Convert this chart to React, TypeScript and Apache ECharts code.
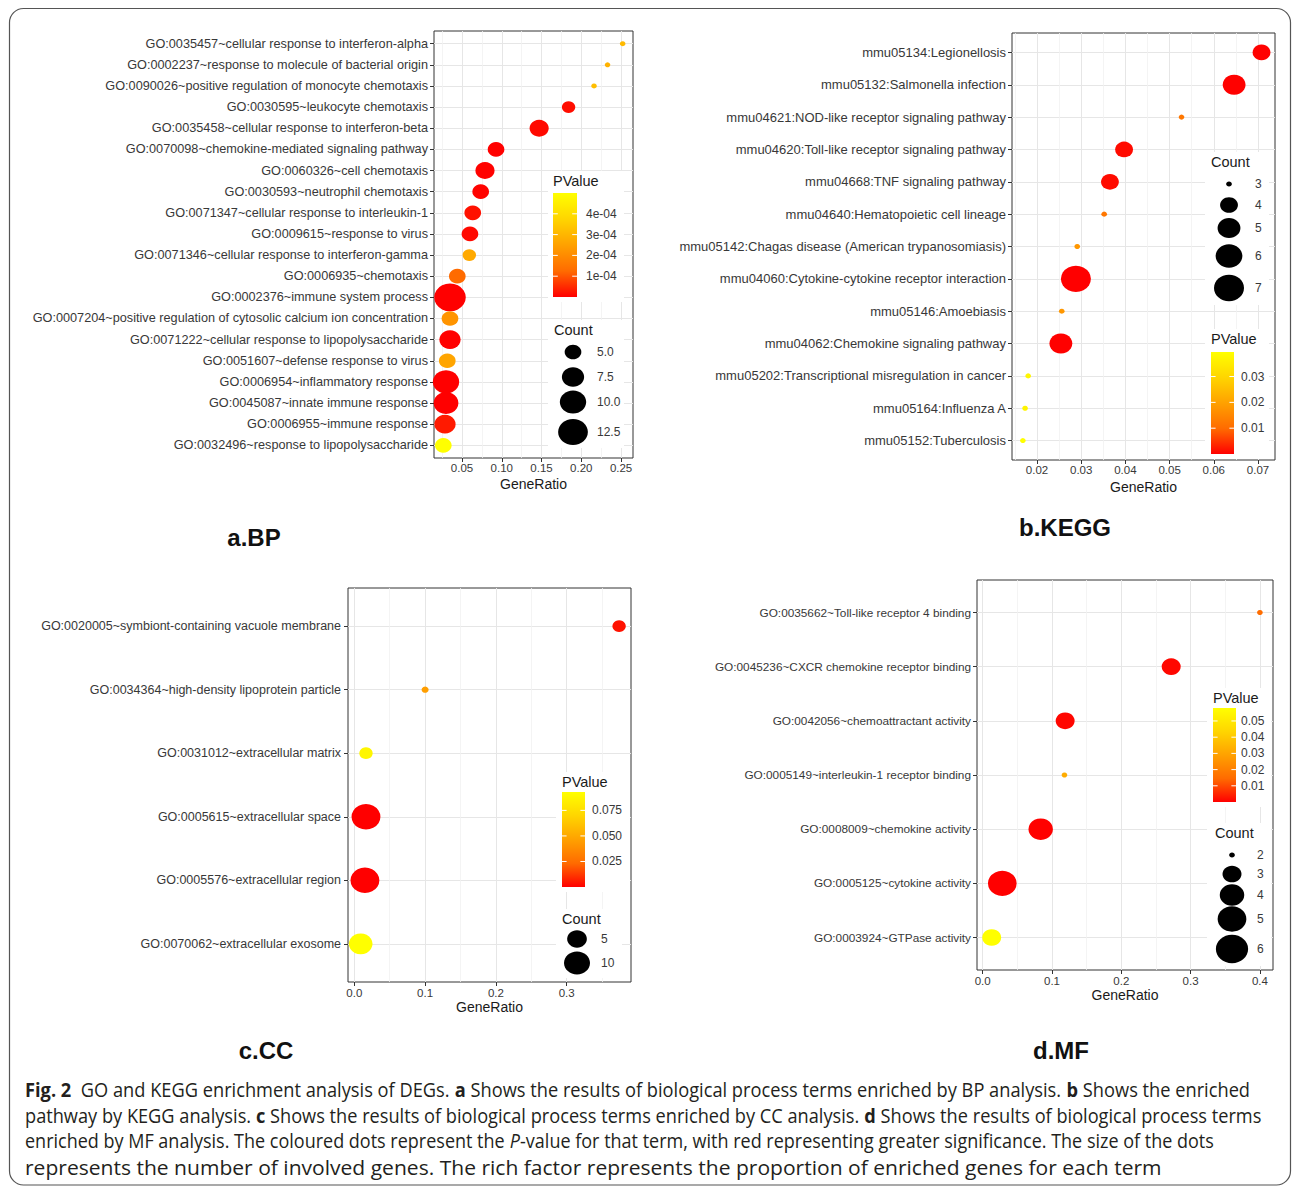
import React, { useEffect, useRef } from 'react';
import * as echarts from 'echarts';

// ---------------- data: a.BP ----------------
const bpTerms = [
  'GO:0035457~cellular response to interferon-alpha',
  'GO:0002237~response to molecule of bacterial origin',
  'GO:0090026~positive regulation of monocyte chemotaxis',
  'GO:0030595~leukocyte chemotaxis',
  'GO:0035458~cellular response to interferon-beta',
  'GO:0070098~chemokine-mediated signaling pathway',
  'GO:0060326~cell chemotaxis',
  'GO:0030593~neutrophil chemotaxis',
  'GO:0071347~cellular response to interleukin-1',
  'GO:0009615~response to virus',
  'GO:0071346~cellular response to interferon-gamma',
  'GO:0006935~chemotaxis',
  'GO:0002376~immune system process',
  'GO:0007204~positive regulation of cytosolic calcium ion concentration',
  'GO:0071222~cellular response to lipopolysaccharide',
  'GO:0051607~defense response to virus',
  'GO:0006954~inflammatory response',
  'GO:0045087~innate immune response',
  'GO:0006955~immune response',
  'GO:0032496~response to lipopolysaccharide',
];
const bpRatio = [0.252, 0.233, 0.216, 0.184, 0.147, 0.0928, 0.0789, 0.0735, 0.0635, 0.06, 0.0592, 0.0441, 0.0349, 0.0349, 0.0349, 0.0315, 0.0299, 0.0299, 0.0286, 0.0265];
const bpCount = [3, 3, 3, 4, 6, 5, 6, 5, 5, 5, 4, 5, 14, 5, 7, 5, 10, 9, 7, 5];
const bpPValue = [3.1e-4, 2.9e-4, 3.2e-4, 1.5e-5, 1e-5, 1e-6, 2e-6, 3e-6, 2e-5, 1e-5, 2.7e-4, 1.25e-4, 1e-8, 2.2e-4, 1e-6, 2.6e-4, 1e-8, 5e-8, 3e-5, 5.0e-4];
const bpXTicks = [0.05, 0.1, 0.15, 0.2, 0.25];
const bpXTickLabels = ['0.05', '0.10', '0.15', '0.20', '0.25'];
const bpXMinor = [0.025, 0.075, 0.125, 0.175, 0.225];
const bpPBreaks = [1e-4, 2e-4, 3e-4, 4e-4];
const bpPBreakLabels = ['1e-04', '2e-04', '3e-04', '4e-04'];
const bpCountBreaks = [5, 7.5, 10, 12.5];
const bpCountBreakLabels = ['5.0', '7.5', '10.0', '12.5'];

// ---------------- data: b.KEGG ----------------
const kgTerms = [
  'mmu05134:Legionellosis',
  'mmu05132:Salmonella infection',
  'mmu04621:NOD-like receptor signaling pathway',
  'mmu04620:Toll-like receptor signaling pathway',
  'mmu04668:TNF signaling pathway',
  'mmu04640:Hematopoietic cell lineage',
  'mmu05142:Chagas disease (American trypanosomiasis)',
  'mmu04060:Cytokine-cytokine receptor interaction',
  'mmu05146:Amoebiasis',
  'mmu04062:Chemokine signaling pathway',
  'mmu05202:Transcriptional misregulation in cancer',
  'mmu05164:Influenza A',
  'mmu05152:Tuberculosis',
];
const kgRatio = [0.0708, 0.0646, 0.0527, 0.0397, 0.0365, 0.0352, 0.0291, 0.0288, 0.0256, 0.0254, 0.018, 0.0173, 0.0168];
const kgCount = [4, 5, 3, 4, 4, 3, 3, 7, 3, 5, 3, 3, 3];
const kgPValue = [2e-4, 1e-4, 0.012, 0.001, 0.001, 0.012, 0.018, 1e-5, 0.018, 1e-4, 0.0375, 0.037, 0.0395];
const kgXTicks = [0.02, 0.03, 0.04, 0.05, 0.06, 0.07];
const kgXTickLabels = ['0.02', '0.03', '0.04', '0.05', '0.06', '0.07'];
const kgXMinor = [0.015, 0.025, 0.035, 0.045, 0.055, 0.065];
const kgPBreaks = [0.01, 0.02, 0.03];
const kgPBreakLabels = ['0.01', '0.02', '0.03'];
const kgCountBreaks = [3, 4, 5, 6, 7];
const kgCountBreakLabels = ['3', '4', '5', '6', '7'];

// ---------------- data: c.CC ----------------
const ccTerms = [
  'GO:0020005~symbiont-containing vacuole membrane',
  'GO:0034364~high-density lipoprotein particle',
  'GO:0031012~extracellular matrix',
  'GO:0005615~extracellular space',
  'GO:0005576~extracellular region',
  'GO:0070062~extracellular exosome',
];
const ccRatio = [0.374, 0.1, 0.0165, 0.0165, 0.015, 0.009];
const ccCount = [2, 1, 2, 13, 13, 8];
const ccPValue = [0.004, 0.045, 0.088, 1e-5, 2e-5, 0.093];
const ccXTicks = [0, 0.1, 0.2, 0.3];
const ccXTickLabels = ['0.0', '0.1', '0.2', '0.3'];
const ccXMinor = [0.05, 0.15, 0.25, 0.35];
const ccPBreaks = [0.025, 0.05, 0.075];
const ccPBreakLabels = ['0.025', '0.050', '0.075'];
const ccCountBreaks = [5, 10];
const ccCountBreakLabels = ['5', '10'];

// ---------------- data: d.MF ----------------
const mfTerms = [
  'GO:0035662~Toll-like receptor 4 binding',
  'GO:0045236~CXCR chemokine receptor binding',
  'GO:0042056~chemoattractant activity',
  'GO:0005149~interleukin-1 receptor binding',
  'GO:0008009~chemokine activity',
  'GO:0005125~cytokine activity',
  'GO:0003924~GTPase activity',
];
const mfRatio = [0.4, 0.272, 0.119, 0.118, 0.0837, 0.0283, 0.013];
const mfCount = [2, 3, 3, 2, 4, 5, 3];
const mfPValue = [0.015, 0.001, 0.0008, 0.032, 0.0002, 1e-5, 0.058];
const mfXTicks = [0, 0.1, 0.2, 0.3, 0.4];
const mfXTickLabels = ['0.0', '0.1', '0.2', '0.3', '0.4'];
const mfXMinor = [0.05, 0.15, 0.25, 0.35];
const mfPBreaks = [0.01, 0.02, 0.03, 0.04, 0.05];
const mfPBreakLabels = ['0.01', '0.02', '0.03', '0.04', '0.05'];
const mfCountBreaks = [2, 3, 4, 5, 6];
const mfCountBreakLabels = ['2', '3', '4', '5', '6'];

// ---------------- caption ----------------
const captionLines: [string, string][][] = [
  [['Fig. 2', 'b'], ['  GO and KEGG enrichment analysis of DEGs. ', ''], ['a', 'b'], [' Shows the results of biological process terms enriched by BP analysis. ', ''], ['b', 'b'], [' Shows the enriched', '']],
  [['pathway by KEGG analysis. ', ''], ['c', 'b'], [' Shows the results of biological process terms enriched by CC analysis. ', ''], ['d', 'b'], [' Shows the results of biological process terms', '']],
  [['enriched by MF analysis. The coloured dots represent the ', ''], ['P', 'i'], ['-value for that term, with red representing greater significance. The size of the dots', '']],
  [['represents the number of involved genes. The rich factor represents the proportion of enriched genes for each term', '']],
];

// ---------------- styling / layout ----------------
const FONT = '"Liberation Sans", Arial, Helvetica, sans-serif';
const CAPTION_FONT = '"Liberation Sans Narrow", "Open Sans", "Noto Sans", sans-serif';
const CAPTION_SIZE = 20;
const P_COLORS = ['#FF0000', '#FF6B00', '#FFA100', '#FFD500', '#FFFF00'];
const ASPECT = 0.88;
const AXIS_TEXT = '#383838';
const TITLE_TEXT = '#1a1a1a';

const panels = [
  {
    terms: bpTerms, ratio: bpRatio, count: bpCount, pvalue: bpPValue,
    xTicks: bpXTicks, xTickLabels: bpXTickLabels, xMinor: bpXMinor,
    pBreaks: bpPBreaks, pBreakLabels: bpPBreakLabels, cBreaks: bpCountBreaks, cBreakLabels: bpCountBreakLabels,
    title: 'a.BP',
    lay: {
      left: 434, top: 31, width: 199, height: 427, xMin: 0.0148, xMax: 0.265,
      yFont: 12.7, yMargin: 6, xFont: 11.5, xMargin: 4, nameGap: 19, dMin: 5.6, dMax: 31.6,
      pTitle: [553, 181], bar: [553, 193, 24, 104], pLabelX: 586, pBox: [548, 171, 76, 131],
      cTitle: [554, 330], cKeyX: 573, cKeyY: [352, 377, 402, 432], cLabelX: 597, cBox: [548, 320, 76, 128],
      titlePos: [254, 537],
    },
  },
  {
    terms: kgTerms, ratio: kgRatio, count: kgCount, pvalue: kgPValue,
    xTicks: kgXTicks, xTickLabels: kgXTickLabels, xMinor: kgXMinor,
    pBreaks: kgPBreaks, pBreakLabels: kgPBreakLabels, cBreaks: kgCountBreaks, cBreakLabels: kgCountBreakLabels,
    title: 'b.KEGG',
    lay: {
      left: 1012, top: 33, width: 263, height: 427, xMin: 0.01434, xMax: 0.07385,
      yFont: 13, yMargin: 6, xFont: 11.5, xMargin: 4, nameGap: 20, dMin: 5.7, dMax: 30,
      pTitle: [1211, 339], bar: [1211, 352, 23, 102], pLabelX: 1241, pBox: [1205, 329, 64, 130],
      cTitle: [1211, 162], cKeyX: 1229, cKeyY: [184, 205, 228, 256, 288], cLabelX: 1255, cBox: [1205, 152, 64, 153],
      titlePos: [1065, 527],
    },
  },
  {
    terms: ccTerms, ratio: ccRatio, count: ccCount, pvalue: ccPValue,
    xTicks: ccXTicks, xTickLabels: ccXTickLabels, xMinor: ccXMinor,
    pBreaks: ccPBreaks, pBreakLabels: ccPBreakLabels, cBreaks: ccCountBreaks, cBreakLabels: ccCountBreakLabels,
    title: 'c.CC',
    lay: {
      left: 348, top: 588, width: 283, height: 394, xMin: -0.0089, xMax: 0.3908,
      yFont: 12.5, yMargin: 7, xFont: 11.5, xMargin: 5, nameGap: 16, dMin: 7.1, dMax: 28.9,
      pTitle: [562, 782], bar: [562, 792, 23, 95], pLabelX: 592, pBox: [556, 772, 74, 120],
      cTitle: [562, 919], cKeyX: 577, cKeyY: [939, 963], cLabelX: 601, cBox: [556, 909, 66, 69],
      titlePos: [266, 1050],
    },
  },
  {
    terms: mfTerms, ratio: mfRatio, count: mfCount, pvalue: mfPValue,
    xTicks: mfXTicks, xTickLabels: mfXTickLabels, xMinor: mfXMinor,
    pBreaks: mfPBreaks, pBreakLabels: mfPBreakLabels, cBreaks: mfCountBreaks, cBreakLabels: mfCountBreakLabels,
    title: 'd.MF',
    lay: {
      left: 977, top: 580, width: 296, height: 390, xMin: -0.0082, xMax: 0.4189,
      yFont: 11.8, yMargin: 6, xFont: 11.5, xMargin: 5, nameGap: 17, dMin: 5.7, dMax: 28.7,
      pTitle: [1213, 698], bar: [1213, 708, 23, 94], pLabelX: 1241, pBox: [1207, 688, 64, 119],
      cTitle: [1215, 833], cKeyX: 1232, cKeyY: [855, 874, 895, 919, 949], cLabelX: 1257, cBox: [1207, 823, 64, 143],
      titlePos: [1061, 1050],
    },
  },
];

const captionTargets = [
  { y: 1090, right: 1250 },
  { y: 1116, right: 1261 },
  { y: 1141, right: 1215 },
  { y: 1167, right: 1163 },
];

function makeSize(counts: number[], dMin: number, dMax: number) {
  const cMin = Math.min(...counts);
  const cMax = Math.max(...counts);
  return (c: number) => dMin + (dMax - dMin) * Math.sqrt(Math.max(0, (c - cMin) / (cMax - cMin)));
}

const LZ = 100;

function buildOption() {
  const grid: any[] = [];
  const xAxis: any[] = [];
  const yAxis: any[] = [];
  const series: any[] = [];
  const visualMap: any[] = [];
  const graphic: any[] = [];

  panels.forEach((p, i) => {
    const L = p.lay;
    const n = p.terms.length;
    const idx = p.terms.map((_, k) => k);
    const size = makeSize(p.count, L.dMin, L.dMax);
    const pMin = Math.min(...p.pvalue);
    const pMax = Math.max(...p.pvalue);

    grid.push({
      left: L.left, top: L.top, width: L.width, height: L.height,
      show: true, borderColor: '#333', borderWidth: 1, backgroundColor: 'transparent',
      containLabel: false, outerBoundsMode: 'none',
    });

    xAxis.push({
      type: 'value', gridIndex: i, min: L.xMin, max: L.xMax, position: 'bottom',
      axisLine: { show: false, onZero: false },
      axisTick: { show: true, length: 4, customValues: p.xTicks, lineStyle: { color: '#333', width: 1 } },
      axisLabel: {
        customValues: p.xTicks, fontSize: L.xFont, color: AXIS_TEXT, fontFamily: FONT, margin: L.xMargin,
        formatter: (v: number) => {
          const k = p.xTicks.findIndex((t) => Math.abs(t - v) < 1e-9);
          return k >= 0 ? p.xTickLabels[k] : '';
        },
      },
      splitLine: { show: true, lineStyle: { color: '#E6E6E6', width: 1 } },
      name: 'GeneRatio', nameLocation: 'middle', nameGap: L.nameGap,
      nameTextStyle: { fontSize: 14, color: TITLE_TEXT, fontFamily: FONT },
    });
    xAxis.push({
      type: 'value', gridIndex: i, min: L.xMin, max: L.xMax, position: 'bottom',
      axisLine: { show: false, onZero: false },
      axisTick: { show: false, customValues: p.xMinor },
      axisLabel: { show: false, customValues: p.xMinor },
      splitLine: { show: true, lineStyle: { color: '#F1F1F1', width: 0.8 } },
    });

    yAxis.push({
      type: 'value', gridIndex: i, inverse: true, min: -0.6, max: n - 0.4,
      axisLine: { show: false, onZero: false },
      axisTick: { show: true, length: 4, customValues: idx, lineStyle: { color: '#333', width: 1 } },
      axisLabel: {
        customValues: idx, fontSize: L.yFont, color: AXIS_TEXT, fontFamily: FONT, margin: L.yMargin,
        formatter: (v: number) => p.terms[Math.round(v)] ?? '',
      },
      splitLine: { show: true, lineStyle: { color: '#E6E6E6', width: 1 } },
    });

    series.push({
      type: 'scatter',
      xAxisIndex: 2 * i,
      yAxisIndex: i,
      symbol: 'circle',
      data: p.terms.map((_, k) => [p.ratio[k], k, p.count[k], p.pvalue[k]]),
      encode: { x: 0, y: 1 },
      symbolSize: (val: number[]) => {
        const w = size(val[2]);
        return [w, w * ASPECT];
      },
      itemStyle: { opacity: 1 },
      clip: true,
      silent: true,
    });

    visualMap.push({
      type: 'continuous', show: false, seriesIndex: i, dimension: 3,
      min: pMin, max: pMax, inRange: { color: P_COLORS },
    });

    // ---- legend backgrounds ----
    [L.pBox, L.cBox].forEach((b) => {
      graphic.push({ type: 'rect', z: LZ - 1, shape: { x: b[0], y: b[1], width: b[2], height: b[3] }, style: { fill: '#ffffff' } });
    });

    // ---- PValue colourbar legend ----
    const [bx, by, bw, bh] = L.bar;
    graphic.push({
      type: 'text', z: LZ, x: L.pTitle[0], y: L.pTitle[1],
      style: { text: 'PValue', fontSize: 14.5, fontFamily: FONT, fill: TITLE_TEXT, verticalAlign: 'middle', align: 'left' },
    });
    graphic.push({
      type: 'rect', z: LZ, shape: { x: bx, y: by, width: bw, height: bh },
      style: {
        fill: {
          type: 'linear', x: 0, y: 1, x2: 0, y2: 0,
          colorStops: P_COLORS.map((c, k) => ({ offset: k / (P_COLORS.length - 1), color: c })),
        },
      },
    });
    p.pBreaks.forEach((v, k) => {
      const y = by + bh - ((v - pMin) / (pMax - pMin)) * bh;
      graphic.push({ type: 'line', z: LZ + 1, shape: { x1: bx, y1: y, x2: bx + bw / 5, y2: y }, style: { stroke: '#fff', lineWidth: 1 } });
      graphic.push({ type: 'line', z: LZ + 1, shape: { x1: bx + bw - bw / 5, y1: y, x2: bx + bw, y2: y }, style: { stroke: '#fff', lineWidth: 1 } });
      graphic.push({
        type: 'text', z: LZ, x: L.pLabelX, y,
        style: { text: p.pBreakLabels[k], fontSize: 12, fontFamily: FONT, fill: AXIS_TEXT, verticalAlign: 'middle', align: 'left' },
      });
    });

    // ---- Count size legend ----
    graphic.push({
      type: 'text', z: LZ, x: L.cTitle[0], y: L.cTitle[1],
      style: { text: 'Count', fontSize: 14.5, fontFamily: FONT, fill: TITLE_TEXT, verticalAlign: 'middle', align: 'left' },
    });
    p.cBreaks.forEach((c, k) => {
      const w = size(c);
      const cy = L.cKeyY[k];
      graphic.push({ type: 'ellipse', z: LZ, shape: { cx: L.cKeyX, cy, rx: w / 2, ry: (w * ASPECT) / 2 }, style: { fill: '#000' } });
      graphic.push({
        type: 'text', z: LZ, x: L.cLabelX, y: cy,
        style: { text: p.cBreakLabels[k], fontSize: 12, fontFamily: FONT, fill: AXIS_TEXT, verticalAlign: 'middle', align: 'left' },
      });
    });

    // ---- panel title ----
    graphic.push({
      type: 'text', z: LZ, x: L.titlePos[0], y: L.titlePos[1],
      style: { text: p.title, fontSize: 24, fontWeight: 'bold', fontFamily: FONT, fill: '#111', align: 'center', verticalAlign: 'middle' },
    });
  });

  // ---- outer frame ----
  graphic.push({
    type: 'rect', z: LZ, shape: { x: 9.5, y: 8.5, width: 1281, height: 1176.5, r: 14 },
    style: { fill: 'none', stroke: '#555', lineWidth: 1.2 },
  });

  // ---- caption ----
  const canvas = document.createElement('canvas');
  const ctx = canvas.getContext('2d');
  captionLines.forEach((segs, li) => {
    let total = 0;
    let txt = '';
    segs.forEach(([t, kind]) => {
      const weight = kind === 'b' ? 'bold' : 'normal';
      const style = kind === 'i' ? 'italic' : 'normal';
      if (ctx) {
        ctx.font = `${style} ${weight} ${CAPTION_SIZE}px ${CAPTION_FONT}`;
        total += ctx.measureText(t).width;
      }
      txt += kind ? `{${kind}|${t}}` : t;
    });
    const target = captionTargets[li].right - 25;
    const sx = total > 0 ? target / total : 1;
    graphic.push({
      type: 'text', z: LZ, x: 25, y: captionTargets[li].y, scaleX: sx,
      style: {
        text: txt, fontSize: CAPTION_SIZE, fontFamily: CAPTION_FONT, fill: '#231f20', verticalAlign: 'middle', align: 'left',
        rich: {
          b: { fontSize: CAPTION_SIZE, fontFamily: CAPTION_FONT, fontWeight: 'bold', fill: '#231f20' },
          i: { fontSize: CAPTION_SIZE, fontFamily: CAPTION_FONT, fontStyle: 'italic', fill: '#231f20' },
        },
      },
    });
  });

  return {
    animation: false,
    backgroundColor: '#ffffff',
    grid, xAxis, yAxis, series, visualMap, graphic,
  };
}

export default function App() {
  const ref = useRef<HTMLDivElement>(null);
  useEffect(() => {
    if (!ref.current) return;
    const chart = echarts.init(ref.current, null, { renderer: 'svg' });
    chart.setOption(buildOption() as any);
    return () => chart.dispose();
  }, []);
  return <div ref={ref} style={{ position: 'absolute', left: 0, top: 0, width: 1292, height: 1190 }} />;
}
